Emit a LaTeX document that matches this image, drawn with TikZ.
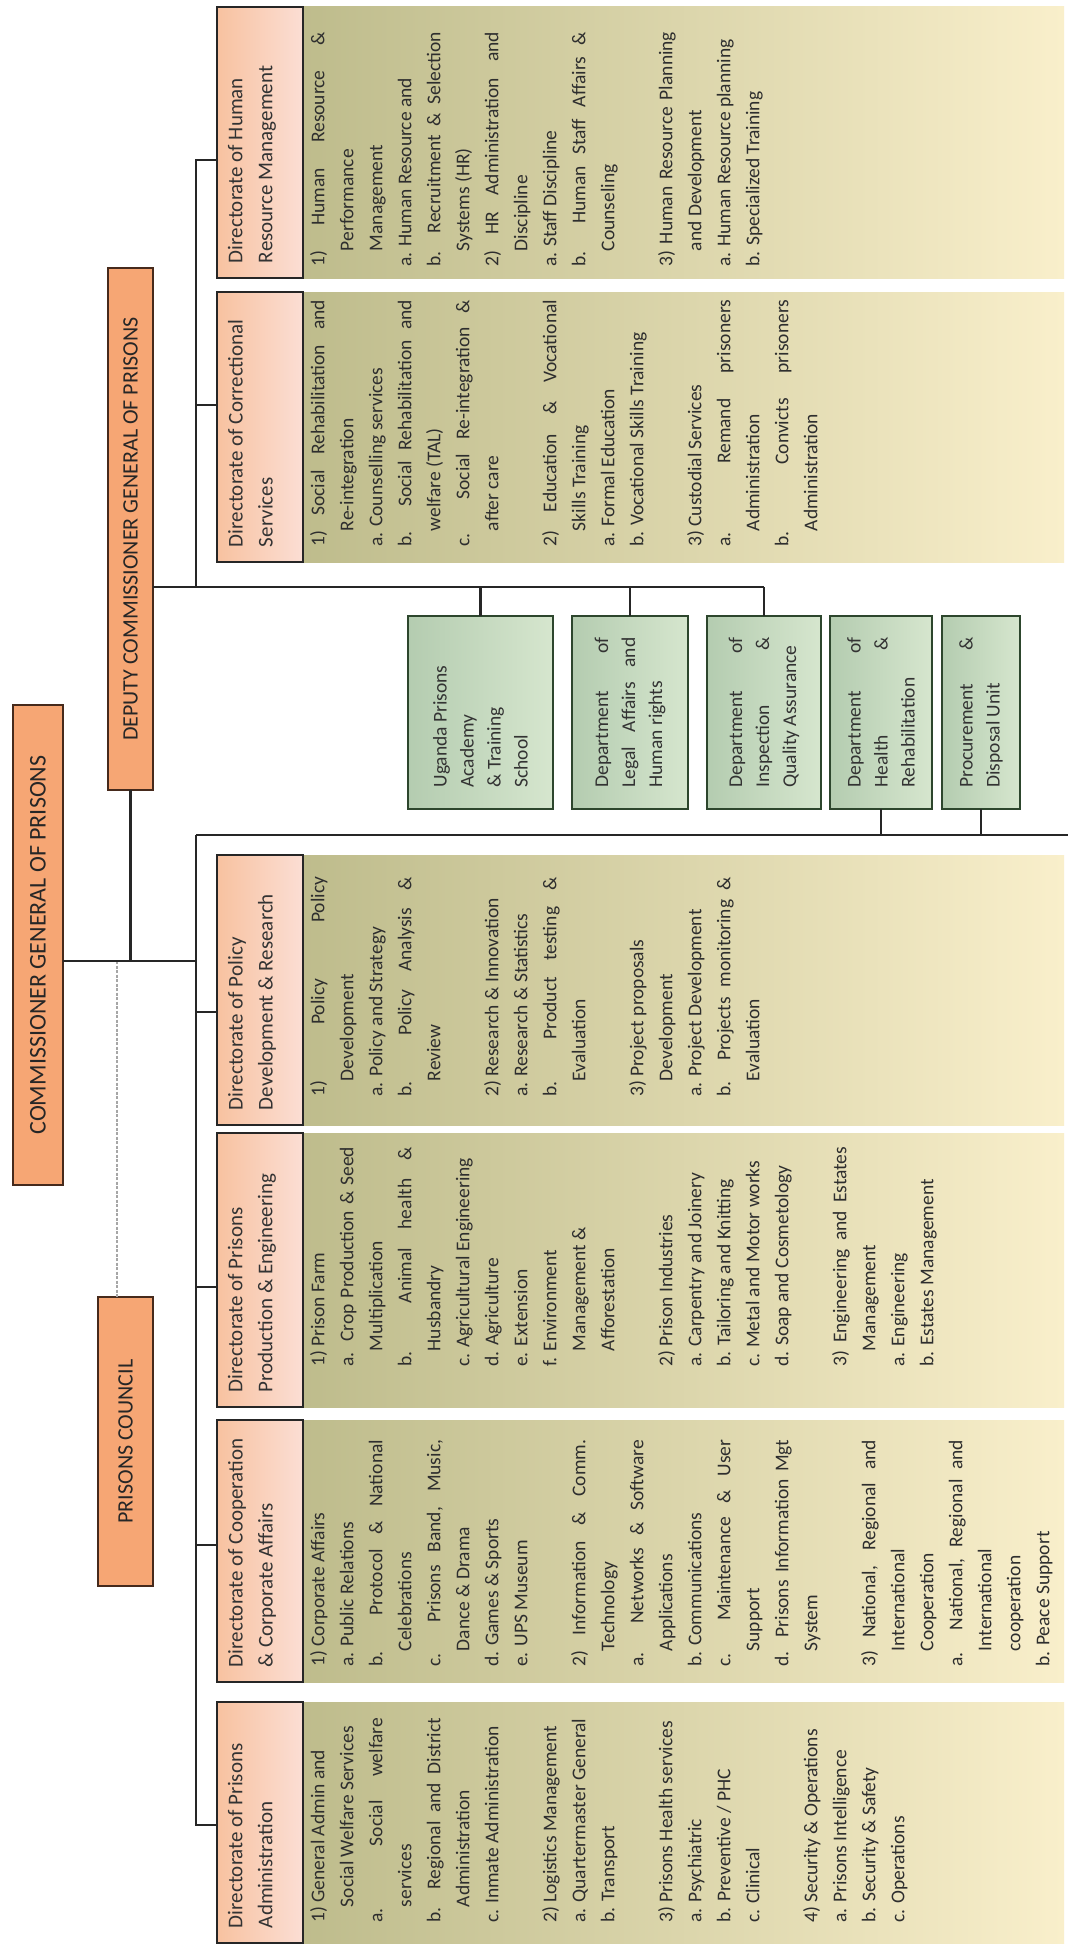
\documentclass[tikz,border=0pt]{standalone}
\usepackage{fontspec}
\setmainfont{Carlito}
\usepackage{graphicx}
\usetikzlibrary{calc}
\definecolor{orgfill}{RGB}{246,166,116}
\definecolor{orgdraw}{RGB}{70,42,28}
\definecolor{hdrL}{RGB}{248,194,160}
\definecolor{hdrR}{RGB}{251,222,212}
\definecolor{bodyL}{RGB}{190,188,140}
\definecolor{bodyM}{RGB}{228,219,170}
\definecolor{bodyR}{RGB}{249,239,203}
\definecolor{grnL}{RGB}{180,204,176}
\definecolor{grnR}{RGB}{214,230,206}
\definecolor{grnD}{RGB}{45,70,45}
\newcommand\JL[1]{\makebox[\linewidth][s]{#1}}
\newcommand\IN{\hspace*{0.8em}}
\newcommand\BT[2]{\rotatebox{90}{\parbox{#1}{\fontsize{19.5}{29}\selectfont\raggedright #2}}}
\newcommand\GT[1]{\rotatebox{90}{\parbox{150pt}{\fontsize{19.5}{27}\selectfont\raggedright #1}}}
\newcommand\HT[2]{\rotatebox{90}{\parbox[c][64pt][t]{#1}{\fontsize{21}{30}\selectfont\raggedright #2}}}
\newcommand\MT[2]{\rotatebox{90}{\fontsize{#1}{26}\selectfont #2}}
\begin{document}
\begin{tikzpicture}[x=1pt,y=-1pt,
  conn/.style={line width=2.6pt, draw=black!85},
  greyconn/.style={line width=2pt, draw=black!35, dash pattern=on 3pt off 1.5pt},
  mainbox/.style={draw=orgdraw, line width=2.2pt, fill=orgfill, inner sep=0pt, outer sep=0pt, text=black!85},
  hdr/.style={draw=black!85, line width=2.4pt, left color=hdrL, right color=hdrR, inner sep=0pt, outer sep=0pt, text=black!80},
  body/.style={draw=none, left color=bodyL, middle color=bodyM, right color=bodyR, inner sep=0pt, outer sep=0pt},
  grn/.style={draw=grnD, line width=2pt, left color=grnL, right color=grnR, inner sep=0pt, outer sep=0pt, text=black!80},
  btxt/.style={inner sep=0pt, anchor=south west, text=black!82},
]
\useasboundingbox[fill=white] (0,0) rectangle (1068,1945);

% ---- bodies ----
\node[body, minimum width=761pt, minimum height=271pt] (hrB) at (683.5,142.5) {};
\node[body, minimum width=761pt, minimum height=270pt] (coB) at (683.5,427) {};
\node[body, minimum width=761pt, minimum height=270pt] (poB) at (683.5,990) {};
\node[body, minimum width=761pt, minimum height=274pt] (prB) at (683.5,1270) {};
\node[body, minimum width=761pt, minimum height=262pt] (cpB) at (683.5,1551) {};
\node[body, minimum width=761pt, minimum height=241pt] (adB) at (683.5,1822.5) {};

% ---- headers ----
\node[hdr, minimum width=86pt, minimum height=271pt] (hrH) at (260,142.5) {\HT{241pt}{Directorate of Human\\Resource Management}};
\node[hdr, minimum width=86pt, minimum height=270pt] (coH) at (260,427) {\HT{240pt}{Directorate of Correctional\\Services}};
\node[hdr, minimum width=86pt, minimum height=270pt] (poH) at (260,990) {\HT{240pt}{Directorate of Policy\\Development \& Research}};
\node[hdr, minimum width=86pt, minimum height=274pt] (prH) at (260,1270) {\HT{244pt}{Directorate of Prisons\\Production \& Engineering}};
\node[hdr, minimum width=86pt, minimum height=262pt] (cpH) at (260,1551) {\HT{232pt}{Directorate of Cooperation\\\& Corporate Affairs}};
\node[hdr, minimum width=86pt, minimum height=241pt] (adH) at (260,1822.5) {\HT{211pt}{Directorate of Prisons\\Administration}};

% ---- body texts ----
\node[btxt] (hrT) at (310,267) {\BT{235pt}{%
\JL{1) Human Resource \&}\\
\IN Performance\\
\IN Management\\
a. Human Resource and\\
\JL{b. Recruitment \& Selection}\\
\IN Systems (HR)\\
\JL{2) HR Administration and}\\
\IN Discipline\\
a. Staff Discipline\\
\JL{b. Human Staff Affairs \&}\\
\IN Counseling\\
\mbox{}\\
\JL{3) Human Resource Planning}\\
\IN and Development\\
a. Human Resource planning\\
b. Specialized Training}};

\node[btxt] (coT) at (310,547) {\BT{247pt}{%
\JL{1) Social Rehabilitation and}\\
\IN Re-integration\\
a. Counselling services\\
\JL{b. Social Rehabilitation and}\\
\IN welfare (TAL)\\
\JL{c. Social Re-integration \&}\\
\IN after care\\
\mbox{}\\
\JL{2) Education \& Vocational}\\
\IN Skills Training\\
a. Formal Education\\
b. Vocational Skills Training\\
\mbox{}\\
3) Custodial Services\\
\JL{a. Remand prisoners}\\
\IN Administration\\
\JL{b. Convicts prisoners}\\
\IN Administration}};

\node[btxt] (poT) at (310,1097) {\BT{220pt}{%
\JL{1) Policy Policy}\\
\IN Development\\
a. Policy and Strategy\\
\JL{b. Policy Analysis \&}\\
\IN Review\\
\mbox{}\\
2) Research \& Innovation\\
a. Research \& Statistics\\
\JL{b. Product testing \&}\\
\IN Evaluation\\
\mbox{}\\
3) Project proposals\\
\IN Development\\
a. Project Development\\
\JL{b. Projects monitoring \&}\\
\IN Evaluation}};

\node[btxt] (prT) at (310,1367) {\BT{220pt}{%
1) Prison Farm\\
\JL{a. Crop Production \& Seed}\\
\IN Multiplication\\
\JL{b. Animal health \&}\\
\IN Husbandry\\
c. Agricultural Engineering\\
d. Agriculture\\
e. Extension\\
f. Environment\\
\IN Management \&\\
\IN Afforestation\\
\mbox{}\\
2) Prison Industries\\
a. Carpentry and Joinery\\
b. Tailoring and Knitting\\
c. Metal and Motor works\\
d. Soap and Cosmetology\\
\mbox{}\\
\JL{3) Engineering and Estates}\\
\IN Management\\
a. Engineering\\
b. Estates Management}};

\node[btxt] (cpT) at (310,1667) {\BT{227pt}{%
1) Corporate Affairs\\
a. Public Relations\\
\JL{b. Protocol \& National}\\
\IN Celebrations\\
\JL{c. Prisons Band, Music,}\\
\IN Dance \& Drama\\
d. Games \& Sports\\
e. UPS Museum\\
\mbox{}\\
\JL{2) Information \& Comm.}\\
\IN Technology\\
\JL{a. Networks \& Software}\\
\IN Applications\\
b. Communications\\
\JL{c. Maintenance \& User}\\
\IN Support\\
\JL{d. Prisons Information Mgt}\\
\IN System\\
\mbox{}\\
\JL{3) National, Regional and}\\
\IN International\\
\IN Cooperation\\
\JL{a. National, Regional and}\\
\IN International\\
\IN cooperation\\
b. Peace Support}};

\node[btxt] (adT) at (310,1923) {\BT{205pt}{%
1) General Admin and\\
\IN Social Welfare Services\\
\JL{a. Social welfare}\\
\IN services\\
\JL{b. Regional and District}\\
\IN Administration\\
c. Inmate Administration\\
\mbox{}\\
2) Logistics Management\\
a. Quartermaster General\\
b. Transport\\
\mbox{}\\
3) Prisons Health services\\
a. Psychiatric\\
b. Preventive / PHC\\
c. Clinical\\
\mbox{}\\
4) Security \& Operations\\
a. Prisons Intelligence\\
b. Security \& Safety\\
c. Operations}};

% ---- main boxes ----
\node[mainbox, minimum width=50pt, minimum height=480pt] (cg) at (38,945) {\MT{24}{COMMISSIONER GENERAL OF PRISONS}};
\node[mainbox, minimum width=45pt, minimum height=522pt] (dep) at (130.5,529) {\MT{22}{DEPUTY COMMISSIONER GENERAL OF PRISONS}};
\node[mainbox, minimum width=55pt, minimum height=289pt] (council) at (125.5,1441.5) {\MT{22}{PRISONS COUNCIL}};

% ---- green units ----
\node[grn, minimum width=145pt, minimum height=193pt] (g1) at (480.5,712.5) {\GT{Uganda Prisons\\Academy\\\& Training\\School}};
\node[grn, minimum width=116pt, minimum height=193pt] (g2) at (630,712.5) {\GT{\JL{Department of}\\\JL{Legal Affairs and}\\Human rights}};
\node[grn, minimum width=114pt, minimum height=193pt] (g3) at (764,712.5) {\GT{\JL{Department of}\\\JL{Inspection \&}\\Quality Assurance}};
\node[grn, minimum width=102pt, minimum height=193pt] (g4) at (881,712.5) {\GT{\JL{Department of}\\\JL{Health \&}\\Rehabilitation}};
\node[grn, minimum width=78pt, minimum height=193pt] (g5) at (981,712.5) {\GT{\JL{Procurement \&}\\Disposal Unit}};

% ---- connector coordinates ----
\coordinate (cgJ) at (196,961);
\coordinate (uJ) at (196,587);
\coordinate (lJ) at (196,835);
\coordinate (bHR) at (196,160);
\coordinate (bCo) at (196,405);
\coordinate (bPo) at (196,1012);
\coordinate (bPr) at (196,1287);
\coordinate (bCp) at (196,1545);
\coordinate (bAd) at (196,1825);
\coordinate (lEnd) at (1068,835);
\coordinate (gS) at (117,961);

% ---- connectors ----
\draw[greyconn] (gS) -- (gS |- council.north);
\draw[conn] (bHR -| hrH.west) -- (bHR) -- (uJ);
\draw[conn] (bCo) -- (bCo -| coH.west);
\draw[conn] (dep.east |- uJ) -- (g3.north |- uJ);
\draw[conn] (g1.north |- uJ) -- (g1.north);
\draw[conn] (g2.north |- uJ) -- (g2.north);
\draw[conn] (g3.north |- uJ) -- (g3.north);
\draw[conn] (lJ) -- (lEnd);
\draw[conn] (g4.south |- lJ) -- (g4.south);
\draw[conn] (g5.south |- lJ) -- (g5.south);
\draw[conn] (lJ) -- (bAd) -- (bAd -| adH.west);
\draw[conn] (bPo) -- (bPo -| poH.west);
\draw[conn] (bPr) -- (bPr -| prH.west);
\draw[conn] (bCp) -- (bCp -| cpH.west);
\draw[conn] (cg.east |- cgJ) -- (cgJ);
\draw[conn] (dep.south) -- (dep.south |- cgJ);
\end{tikzpicture}
\end{document}
